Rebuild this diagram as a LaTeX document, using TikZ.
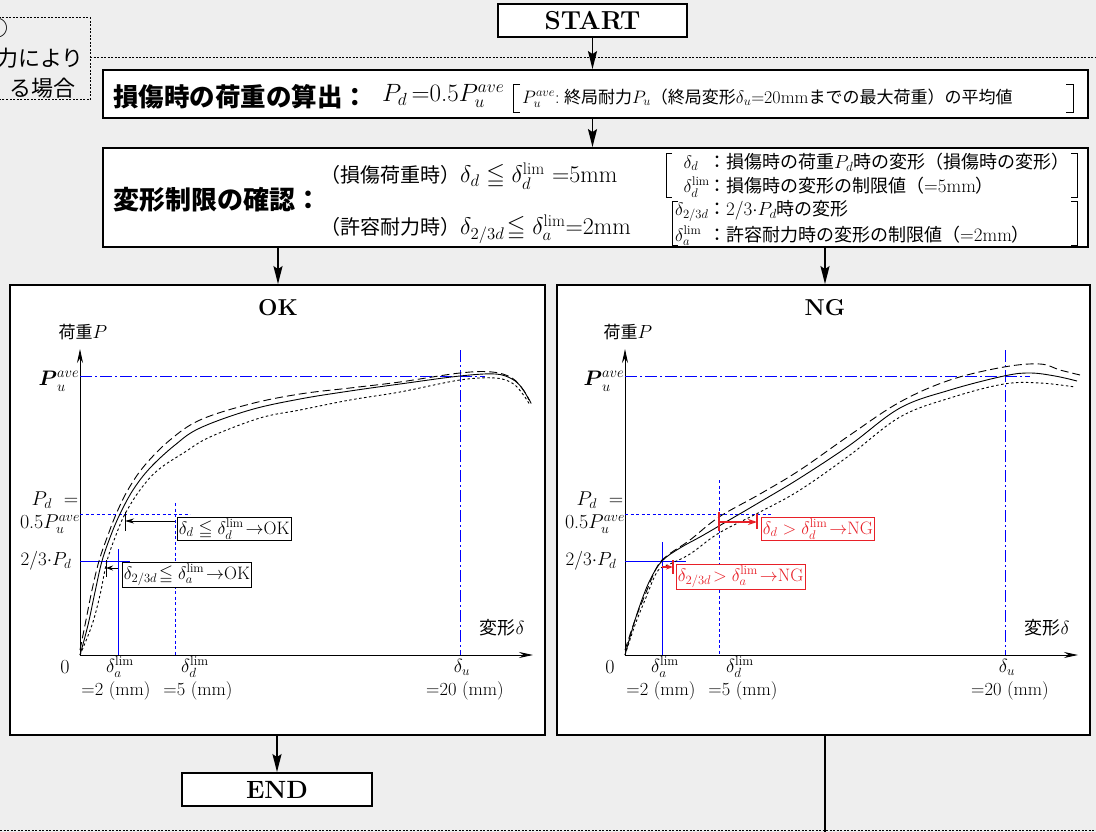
\RequirePackage{fix-cm}
\documentclass[tikz,border=0pt]{standalone}
\usepackage{amsmath,amssymb}
\usepackage{fontspec}
\newfontfamily\jp{Noto Sans CJK JP}
\usetikzlibrary{arrows.meta,calc}
\definecolor{bgc}{RGB}{238,238,238}
\definecolor{ngred}{RGB}{232,32,40}
\newcommand\fs[1]{\fontsize{#1}{#1}\selectfont}
\newcommand\graphbase[1]{%
 \coordinate (#1o) at (80,655);
 \coordinate (#1xe) at (533,655);
 \coordinate (#1yt) at (80,349);
 \draw[gline,-{Stealth[length=14pt,width=6pt]}] (#1o) -- (#1yt);
 \draw[gline,-{Stealth[length=14pt,width=6pt]}] (#1o) -- (#1xe);
 \node[lab] (#1ylab) at (83,332) {{\fs{17}\jp 荷重}{\fs{19}$P$}};
 \node[lab] (#1pu) at (59,381) {\fs{21}$\boldsymbol{P}_u^{ave}$};
 \node[lab] (#1pd) at (55,500) {\fs{20}$P_d$\ \ =};
 \node[lab] (#1pu5) at (50,524) {\fs{20}0.5$P_u^{ave}$};
 \node[lab] (#1p23) at (46,561) {\fs{19}2/3$\cdot$$P_d$};
 \node[lab] (#1zero) at (65,667) {\fs{20}0};
 \node[lab] (#1da) at (120,667) {\fs{19}$\delta_a^{\lim}$};
 \node[lab] (#1dd) at (195,667) {\fs{19}$\delta_d^{\lim}$};
 \node[lab] (#1du) at (462,667) {\fs{19}$\delta_u$};
 \node[lab] (#1m2) at (116,691) {\fs{18.5}=2 (mm)};
 \node[lab] (#1m5) at (198,691) {\fs{18.5}=5 (mm)};
 \node[lab] (#1m20) at (465,691) {\fs{18.5}=20 (mm)};
 \node[lab] (#1xl) at (502,628) {{\fs{18}\jp 変形}{\fs{19}$\delta$}};
 \draw[bdd] (80,376) -- (485,376);
 \draw[bdd] (460,350) -- (460,655);
}
\begin{document}
\begin{tikzpicture}[x=1pt,y=-1pt,
  box/.style={draw,line width=1.8pt,fill=white,inner sep=0pt},
  flow/.style={line width=1.8pt,-{Stealth[length=18pt,width=9pt,inset=3pt]}},
  gline/.style={line width=0.9pt},
  bdash/.style={blue,line width=1pt,dash pattern=on 3pt off 2.5pt},
  bdd/.style={blue,line width=1pt,dash pattern=on 12pt off 3pt on 2pt off 3pt},
  bsol/.style={blue,line width=1pt},
  cdash/.style={line width=0.9pt,dash pattern=on 8pt off 4pt},
  cdot/.style={line width=0.9pt,dash pattern=on 2.5pt off 2.5pt},
  lab/.style={inner sep=0pt},
  okbox/.style={draw,line width=0.8pt,fill=white,inner sep=1.5pt},
  ngbox/.style={draw=ngred,text=ngred,line width=0.8pt,fill=white,inner sep=1.5pt},
  frameline/.style={line width=1pt,dash pattern=on 2pt off 1.5pt},
  bra/.style={line width=0.9pt}
]
\fill[bgc] (0,0) rectangle (1096,832);
\useasboundingbox (0,0) rectangle (1096,832);
% dotted frames
\draw[frameline] (-5,18) -- (90,18) -- (90,100) -- (-5,100);
\draw[frameline] (90,58) -- (1096,58);
\draw[frameline] (0,830) -- (1096,830);
\node[lab,anchor=east] (c1) at (9,28) {\fs{22}\jp ○};
\node[lab,anchor=east] (c2) at (84,58) {\fs{22}\jp 力により};
\node[lab,anchor=east] (c3) at (76,88) {\fs{22}\jp る場合};
% boxes
\node[box,minimum width=189pt,minimum height=33pt] (start) at (592.5,20.5) {\fs{26}\bfseries START};
\node[box,minimum width=985pt,minimum height=48pt] (b1) at (595.5,94) {};
\node[box,minimum width=985pt,minimum height=99pt] (b2) at (595.5,197.5) {};
\node[box,minimum width=535pt,minimum height=450pt] (ok) at (277.5,510) {};
\node[box,minimum width=533pt,minimum height=450pt] (ng) at (823.5,510) {};
\node[box,minimum width=190pt,minimum height=33pt] (end) at (277,789.5) {\fs{25}\bfseries END};
% connectors
\coordinate (okin) at (278,0);
\coordinate (ngin) at (825,0);
\coordinate (ngout) at (825,832);
\draw[flow] (start.south) -- (start.south |- b1.north);
\draw[flow] (b1.south -| start.south) -- (b2.north -| start.south);
\draw[flow] (b2.south -| okin) -- (ok.north -| okin);
\draw[flow] (b2.south -| ngin) -- (ng.north -| ngin);
\draw[flow] (ok.south -| end.north) -- (end.north);
\draw[line width=1.8pt] (ng.south -| ngout) -- (ngout);
% box 1 content
\node[lab,anchor=west] (h1) at (113,97) {\fs{25.5}\jp\bfseries 損傷時の荷重の算出：};
\node[lab,anchor=west] (m1) at (382,96) {\fs{25}$P_d$\,=0.5$P_u^{ave}$};
\draw[bra] (520,84) -- (513,84) -- (513,112) -- (520,112);
\draw[bra] (1066,84) -- (1073,84) -- (1073,112) -- (1066,112);
\node[lab,anchor=west] (t1) at (522,98) {{\fs{18}$P_u^{ave}$:} {\fs{17}\jp 終局耐力}{\fs{18}$P_u$}{\fs{17}\jp （終局変形}{\fs{18}$\delta_u$=20mm}{\fs{17}\jp までの最大荷重）の平均値}};
% box 2 content
\node[lab,anchor=west] (h2) at (113,200) {\fs{26}\jp\bfseries 変形制限の確認：};
\node[lab,anchor=west] (m2a) at (320,176) {{\fs{20}\jp （損傷荷重時）}{\fs{24}$\delta_d\leqq\delta_d^{\lim}$ =5mm}};
\node[lab,anchor=west] (m2b) at (320,229) {{\fs{20}\jp （許容耐力時）}{\fs{24}$\delta_{2/3d}\!\leqq\delta_a^{\lim}$=2mm}};
\draw[bra] (672,153) -- (666,153) -- (666,197) -- (672,197);
\draw[bra] (1071,153) -- (1077,153) -- (1077,197) -- (1071,197);
\draw[bra] (678,201) -- (672,201) -- (672,245) -- (678,245);
\draw[bra] (1071,201) -- (1077,201) -- (1077,245) -- (1071,245);
\node[lab,anchor=west] (r1) at (678,162) {\makebox[30pt][l]{\fs{18}\ $\delta_d$}{\fs{18}\jp ：損傷時の荷重}{\fs{19}$P_d$}{\fs{18}\jp 時の変形（損傷時の変形）}};
\node[lab,anchor=west] (r2) at (678,187) {\makebox[30pt][l]{\fs{18}\ $\delta_d^{\lim}$}{\fs{18}\jp ：損傷時の変形の制限値（}{\fs{19}=5mm}{\fs{18}\jp ）}};
\node[lab,anchor=west] (r3) at (675,211) {\makebox[33pt][l]{\fs{18}$\delta_{2/3d}$}{\fs{18}\jp ：}{\fs{19}2/3$\cdot$$P_d$}{\fs{18}\jp 時の変形}};
\node[lab,anchor=west] (r4) at (675,236) {\makebox[33pt][l]{\fs{18}$\delta_a^{\lim}$}{\fs{18}\jp ：許容耐力時の変形の制限値（}{\fs{19}=2mm}{\fs{18}\jp ）}};
% titles
\node[lab] (okt) at (278,308) {\fs{23}\bfseries OK};
\node[lab] (ngt) at (825,308) {\fs{23}\bfseries NG};
% OK graph
\graphbase{ok}
\draw[bdash] (80,514) -- (190,514);
\draw[bdash] (175,503) -- (175,655);
\draw[bsol] (80,561) -- (130,561);
\draw[bsol] (118,549) -- (118,655);
\draw[gline] plot[smooth,tension=0.6] coordinates {(80,655) (88,625) (95,592) (102,561) (111,535) (120,514) (133,490) (150,468) (175,445) (200,428) (250,410) (300,399) (350,391) (400,384) (460,376) (495,374) (512,379) (522,388) (529,400)};
\draw[cdash] plot[smooth,tension=0.6] coordinates {(80,650) (86,620) (92,590) (99,561) (108,535) (117,512) (129,488) (145,465) (170,440) (200,420) (250,404) (300,394) (350,388) (400,382) (460,373) (492,372) (512,378) (524,391) (532,405)};
\draw[cdot] plot[smooth,tension=0.6] coordinates {(80,655) (92,625) (100,595) (107,561) (116,535) (125,514) (140,490) (158,470) (185,452) (210,437) (260,418) (300,410) (350,400) (400,392) (460,380) (495,378) (512,383) (522,393) (530,405)};
\node[okbox,anchor=west] (okl1) at (177,529) {\fs{18}$\delta_d\leqq\delta_d^{\lim}\!\rightarrow$OK};
\node[okbox,anchor=west] (okl2) at (122,575) {\fs{18}$\delta_{2/3d}\!\leqq\delta_a^{\lim}\!\rightarrow$OK};
\coordinate (oka1s) at (175,521); \coordinate (oka1e) at (125,521);
\coordinate (oka2s) at (118,568); \coordinate (oka2e) at (106,568);
\draw[gline] (125,512) -- (125,531);
\draw[gline,-{Stealth[length=9pt,width=5pt]}] (oka1s) -- (oka1e);
\draw[gline] (106,560) -- (106,577);
\draw[gline,-{Stealth[length=7pt,width=5pt]}] (oka2s) -- (oka2e);
% NG graph
\begin{scope}[xshift=545pt]
\graphbase{ng}
\draw[bdash] (80,514) -- (228,514);
\draw[bdash] (174,480) -- (174,655);
\draw[bsol] (80,561) -- (141,561);
\draw[bsol] (117,542) -- (117,655);
\draw[gline] plot[smooth,tension=0.6] coordinates {(80,655) (87,630) (95,605) (105,580) (117,561) (135,548) (155,537) (174,526) (215,502) (255,478) (305,445) (355,408) (405,390) (459,376) (485,373) (510,376) (532,381)};
\draw[cdash] plot[smooth,tension=0.6] coordinates {(80,650) (90,620) (100,595) (112,567) (123,555) (145,540) (174,517) (215,494) (255,470) (305,435) (355,402) (405,380) (459,367) (495,364) (515,370) (535,375)};
\draw[cdot] plot[smooth,tension=0.6] coordinates {(80,655) (90,625) (100,600) (112,572) (123,565) (145,554) (174,533) (215,512) (255,490) (305,455) (355,417) (405,398) (459,384) (495,383) (530,387)};
\end{scope}
\node[ngbox,anchor=west] (ngl1) at (761,529) {\fs{18}$\delta_d>\delta_d^{\lim}\!\rightarrow$NG};
\node[ngbox,anchor=west] (ngl2) at (676,577) {\fs{18}$\delta_{2/3d}\!>\delta_a^{\lim}\!\rightarrow$NG};
\coordinate (nga1s) at (719,522); \coordinate (nga1e) at (757,522);
\coordinate (nga2s) at (662,567); \coordinate (nga2e) at (673,567);
\draw[ngred,line width=1.2pt] (719,512) -- (719,531);
\draw[ngred,line width=1.2pt] (757,514) -- (757,529);
\draw[ngred,line width=1.2pt,-{Stealth[length=9pt,width=6pt]}] (nga1s) -- (nga1e);
\draw[ngred,line width=1.2pt] (673,560) -- (673,574);
\draw[ngred,line width=1.2pt,-{Stealth[length=7pt,width=5pt]}] (nga2s) -- (nga2e);
\end{tikzpicture}
\end{document}
